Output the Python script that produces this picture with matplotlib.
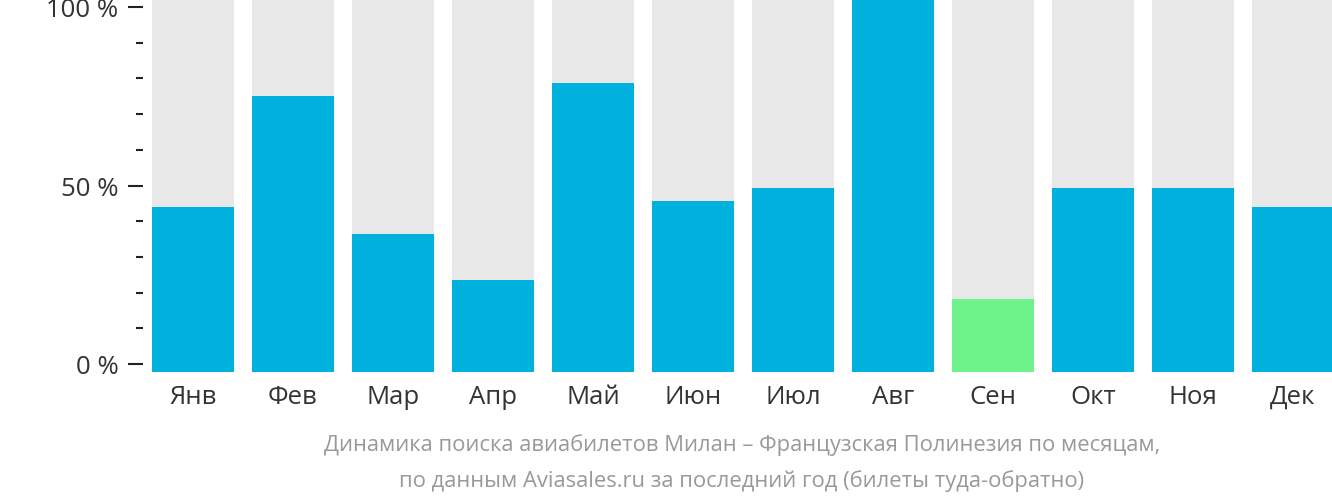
import matplotlib
matplotlib.use("Agg")
import matplotlib.pyplot as plt
from matplotlib.ticker import MultipleLocator

# ── Data ──────────────────────────────────────────────────────────────────────
months = ["Янв", "Фев", "Мар", "Апр", "Май", "Июн",
          "Июл", "Авг", "Сен", "Окт", "Ноя", "Дек"]
values = [44.3, 74.1, 37.0, 24.7, 77.5, 45.8, 49.3, 100.0, 19.6, 49.3, 49.3, 44.2]
highlight = "Сен"
y_ticks = [0, 50, 100]
y_tick_labels = ["0 %", "50 %", "100 %"]
caption = ("Динамика поиска авиабилетов Милан – Французская Полинезия по месяцам,\n"
           "по данным Aviasales.ru за последний год (билеты туда-обратно)")

BLUE = "#00b1dd"
GREEN = "#6ef28a"
GREY = "#e8e8e8"
TEXT = "#333333"

plt.rcParams["font.family"] = ["Open Sans", "DejaVu Sans"]

W, H = 1332, 502
fig = plt.figure(figsize=(W / 100, H / 100), dpi=100)

# bars: 0 -> y=373px, 100 -> top edge
left_px = 143
ax = fig.add_axes([left_px / W, (H - 373) / H, (W - left_px) / W, 373 / H])
x = list(range(len(months)))
ax.bar(x, [100] * len(months), width=0.82, color=GREY, zorder=1)
colors = [GREEN if m == highlight else BLUE for m in months]
ax.bar(x, values, width=0.82, color=colors, zorder=2)
ax.set_xlim(-0.5, (W - 193) / 100)
ax.set_ylim(0, 100)
ax.set_xticks(x)
ax.set_xticklabels(months, fontsize=18.5, color=TEXT)
ax.tick_params(axis="x", length=0, pad=8.5)
ax.set_yticks([])
for s in ax.spines.values():
    s.set_visible(False)

# percentage scale: 0 % at y=365px, 100 % at y=8px
tax = fig.add_axes([left_px / W, (H - 365) / H, 0.001, 357 / H])
tax.patch.set_visible(False)
tax.set_ylim(0, 100)
tax.set_xticks([])
tax.set_yticks(y_ticks)
tax.set_yticklabels(y_tick_labels, fontsize=18.5, color=TEXT)
tax.yaxis.set_minor_locator(MultipleLocator(10))
tax.tick_params(axis="y", which="major", length=10.8, width=1.5, color="#222222", pad=7)
tax.tick_params(axis="y", which="minor", length=5, width=1.5, color="#222222")
for s in tax.spines.values():
    s.set_visible(False)

fig.text(742 / W, 1 - 463 / H, caption, ha="center", va="center",
         fontsize=15.8, color="#999999", linespacing=1.8)

fig.savefig("out.png", dpi=100)
